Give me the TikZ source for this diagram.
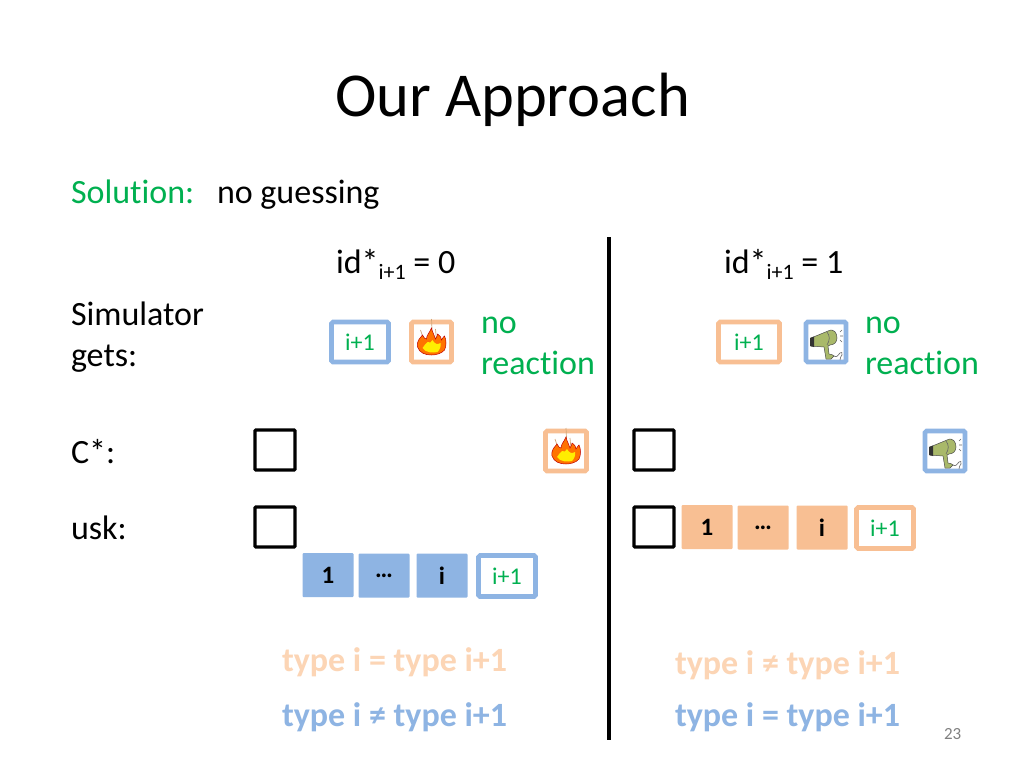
\documentclass[tikz,border=0pt]{standalone}
\usepackage{fontspec}
\setmainfont[Ligatures=NoCommon]{Carlito}
\definecolor{cgreen}{HTML}{00B050}
\definecolor{cblue}{HTML}{8EB4E3}
\definecolor{corange}{HTML}{F8BF93}
\definecolor{cpale}{HTML}{FCD5B5}
\definecolor{dry}{HTML}{A9B96A}
\tikzset{
 txt/.style={font=\fontsize{34}{40}\selectfont,anchor=base west,inner sep=0pt,outer sep=0pt},
 grn/.style={txt,text=cgreen},
 boldt/.style={txt,font=\bfseries\fontsize{34}{40}\selectfont},
 blackbox/.style={draw=black,line width=3.4pt,rounded corners=1pt,minimum width=40pt,minimum height=40pt,inner sep=0pt},
 framed/.style={line width=4.6pt,rounded corners=1.5pt,fill=white,inner sep=0pt,text=cgreen,font=\fontsize{24}{28}\selectfont},
 filledb/.style={rounded corners=1pt,inner sep=0pt,font=\bfseries\fontsize{25}{28}\selectfont,minimum height=44pt},
 flame/.pic={
  \draw[line width=.7pt,draw=brown!70] (0,-23) -- (0.5,-13);
  \draw[line width=.7pt,draw=brown!70] (-11,-12) -- (-8,-3);
  \draw[line width=.7pt,draw=brown!70] (4,-13) -- (5,-2);
  \fill[draw=red!75!black,line width=.5pt,fill=orange!90!red]
   (-14,5) .. controls (-15,-2) and (-11,-4) .. (-9,-7)
   .. controls (-8,-4) and (-6,-3) .. (-5,-3)
   .. controls (-5,-7) and (-2,-9) .. (0,-14)
   .. controls (1,-9) and (3,-7) .. (4,-3)
   .. controls (5,-5) and (6,-6) .. (6,-8)
   .. controls (9,-6) and (10,-4) .. (10,-2)
   .. controls (11,-4) and (12,-5) .. (13,-6)
   .. controls (15,-2) and (15,4) .. (13,8)
   .. controls (10,12) and (3,13) .. (0,13)
   .. controls (-6,13) and (-12,11) .. (-14,5) -- cycle;
  \fill[yellow!95!orange]
   (-9,6) .. controls (-8,3) and (-5,2) .. (-4,0)
   .. controls (-2,2) and (0,0) .. (1,-2)
   .. controls (3,2) and (6,3) .. (9,1)
   .. controls (10,4) and (8,8) .. (6,10)
   .. controls (2,11) and (-6,11) .. (-9,6) -- cycle;
 },
 dryer/.pic={
  \fill[draw=black!70,line width=.5pt,fill=dry]
   (-15,-4) -- (2,-11) .. controls (8,-14) and (11,-9) .. (11,-4)
   .. controls (11,0) and (8,3) .. (4,3) -- (2,4) -- (3,12)
   .. controls (5,12) and (7,13) .. (8,14) -- (5,17) -- (0,17) -- (-2,5) -- (-15,4) -- cycle;
  \fill[black!80] (-16,-4) -- (-12,-5.5) -- (-12,5) -- (-16,4) -- cycle;
  \draw[black!60,line width=.6pt] (1,-10) .. controls (4,-6) and (4,-2) .. (1,3);
  \draw[black!60,line width=.6pt] (14,-10) -- (16,-12) (14,-6) -- (17,-6) (14,-2) -- (16,0);
  \draw[black!60,line width=.6pt] (8,14) .. controls (10,16) and (13,13) .. (14,11) .. controls (15,9) and (17,11) .. (16,13) .. controls (15,15) and (14,15) .. (14,18);
 }
}
\begin{document}
\begin{tikzpicture}[x=1pt,y=-1pt]
\useasboundingbox (0,0) rectangle (1024,768);
\fill[white] (0,0) rectangle (1024,768);
\node[txt,font=\fontsize{62.5}{72}\selectfont] (title) at (335,116) {Our Approach};
\node[grn] (sol) at (71,203) {Solution:};
\node[txt] (nog) at (217,203) {no guessing};
\node[txt] (idl) at (336,273) {id*\raisebox{-6pt}{\fontsize{22}{24}\selectfont i+1} = 0};
\node[txt] (idr) at (724,273) {id*\raisebox{-6pt}{\fontsize{22}{24}\selectfont i+1} = 1};
\node[txt] (sim1) at (71,325) {Simulator};
\node[txt] (sim2) at (71,366) {gets:};
\node[txt] (cs) at (71,463) {C*:};
\node[txt] (usk) at (71,539) {usk:};
\node[grn] (nl1) at (481,333) {no};
\node[grn] (nl2) at (481,374) {reaction};
\node[grn] (nr1) at (865,333) {no};
\node[grn] (nr2) at (865,374) {reaction};
\coordinate (vt) at (609,237);
\coordinate (vb) at (609,740);
\draw[line width=3.2pt] (vt) -- (vb);
% simulator row
\node[framed,draw=cblue,minimum width=57pt,minimum height=40pt] (a1) at (360,342) {i+1};
\node[framed,draw=corange,minimum width=40pt,minimum height=40pt] (a2) at (431.5,342) {};
\pic at (a2) {flame};
\node[framed,draw=corange,minimum width=61pt,minimum height=40pt] (b1) at (749,342) {i+1};
\node[framed,draw=cblue,minimum width=40pt,minimum height=40pt] (b2) at (826,342) {};
\pic at (b2) {dryer};
% C* row
\node[blackbox] (c1) at (275,450) {};
\node[blackbox] (c2) at (654,450) {};
\node[framed,draw=corange,minimum width=41pt,minimum height=40pt] (c3) at (566,451) {};
\pic at (c3) {flame};
\node[framed,draw=cblue,minimum width=40pt,minimum height=40pt] (c4) at (945,451) {};
\pic at (c4) {dryer};
% usk row
\node[blackbox] (u1) at (275,527) {};
\node[blackbox] (u2) at (654,527) {};
\node[filledb,fill=cblue,minimum width=51pt] (l1) at (328,575) {1};
\node[filledb,fill=cblue,minimum width=51pt] (l2) at (384,575.5) {…};
\node[filledb,fill=cblue,minimum width=51pt] (l3) at (442,575.5) {i};
\node[framed,draw=cblue,minimum width=57pt,minimum height=41pt] (l4) at (507,576) {i+1};
\node[filledb,fill=corange,minimum width=51pt] (r1) at (707,527) {1};
\node[filledb,fill=corange,minimum width=51pt] (r2) at (763,527.5) {…};
\node[filledb,fill=corange,minimum width=51pt] (r3) at (822,527.5) {i};
\node[framed,draw=corange,minimum width=57pt,minimum height=41pt] (r4) at (885,528) {i+1};
% type labels
\node[boldt,text=cpale] (tl1) at (282,671) {type i = type i+1};
\node[boldt,text=cblue] (tl2) at (282,726) {type i ≠ type i+1};
\node[boldt,text=cpale] (tr1) at (675,674) {type i ≠ type i+1};
\node[boldt,text=cblue] (tr2) at (675,726) {type i = type i+1};
\node[txt,text=black!50,font=\fontsize{17}{20}\selectfont] (pg) at (944,739) {23};
\end{tikzpicture}
\end{document}
